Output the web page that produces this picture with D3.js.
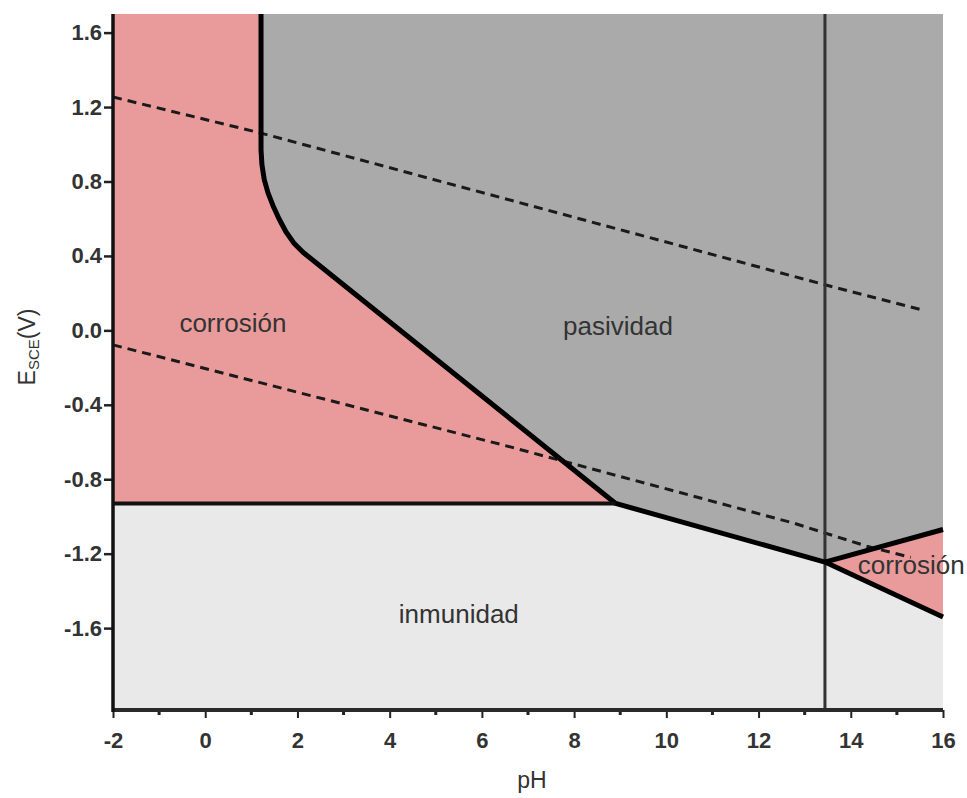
<!DOCTYPE html>
<html>
<head>
<meta charset="utf-8">
<script src="https://cdn.jsdelivr.net/npm/d3@7"></script>
<style>
  body { margin: 0; background: #fff; }
  text { font-family: "Liberation Sans", Arial, sans-serif; }
</style>
</head>
<body>
<div id="chart"></div>
<script>
var svgWidth = 967;
var svgHeight = 798;

var margin = { top: 14, right: 24, bottom: 88, left: 113 };
var width = svgWidth - margin.left - margin.right;
var height = svgHeight - margin.top - margin.bottom;

// data
var xTicks = [-2, 0, 2, 4, 6, 8, 10, 12, 14, 16];
var xMinorTicks = [-1, 1, 3, 5, 7, 9, 11, 13, 15];
var yTicks = [1.6, 1.2, 0.8, 0.4, 0.0, -0.4, -0.8, -1.2, -1.6];
var yTickLabels = ["1.6", "1.2", "0.8", "0.4", "0.0", "-0.4", "-0.8", "-1.2", "-1.6"];

// passive / corrosion boundary (thick line)
var boundaryPH = [1.21, 1.21, 1.23, 1.28, 1.36, 1.47, 1.60, 1.75, 1.92, 2.12, 8.9, 13.44];
var boundaryE = [1.70, 0.97, 0.89, 0.81, 0.74, 0.67, 0.60, 0.53, 0.47, 0.42, -0.93, -1.245];

// immunity line
var immunityPH = [-2, 8.9];
var immunityE = [-0.93, -0.93];

// alkaline corrosion wedge
var wedgeUpperPH = [13.44, 16];
var wedgeUpperE = [-1.245, -1.07];
var wedgeLowerPH = [13.44, 16];
var wedgeLowerE = [-1.245, -1.54];

// vertical line
var verticalPH = 13.44;

// water stability lines (dashed)
var oxygenPH = [-2, 1.21, 13.44, 15.55];
var oxygenE = [1.254, 1.06, 0.245, 0.11];
var hydrogenPH = [-2, 6.46, 12.75, 14.35, 15.3];
var hydrogenE = [-0.078, -0.616, -1.035, -1.16, -1.22];

var regionLabels = [
  { text: "corrosión", ph: 0.6, e: -0.01, anchor: "middle" },
  { text: "pasividad", ph: 8.95, e: -0.025, anchor: "middle" },
  { text: "inmunidad", ph: 5.5, e: -1.57, anchor: "middle" },
  { text: "corrosión", ph: 14.15, e: -1.31, anchor: "start" }
];

var zip = function(xs, ys) { return xs.map(function(v, i) { return [v, ys[i]]; }); };

var svg = d3.select("#chart")
  .append("svg")
  .attr("width", svgWidth)
  .attr("height", svgHeight);

var chart = svg.append("g")
  .attr("transform", `translate(${margin.left}, ${margin.top})`);

var x = d3.scaleLinear().domain([-2, 16]).range([0, width]);
var y = d3.scaleLinear().domain([-2.04, 1.70]).range([height, 0]);

var line = d3.line().x(d => x(d[0])).y(d => y(d[1]));

var boundary = zip(boundaryPH, boundaryE);
var nb = boundary.length;

// immunity background
chart.append("rect")
  .attr("x", 0).attr("y", 0)
  .attr("width", width).attr("height", height)
  .attr("fill", "#e9e9e9");

// corrosion (acid) area
var pink = [[-2, 1.70]].concat(boundary.slice(0, nb - 1)).concat([[-2, -0.93]]);
chart.append("path")
  .attr("d", line(pink) + "Z")
  .attr("fill", "#e99b9b");

// passive area
var grey = [[16, 1.70], [16, wedgeUpperE[1]], [wedgeUpperPH[0], wedgeUpperE[0]]]
  .concat(boundary.slice().reverse());
chart.append("path")
  .attr("d", line(grey) + "Z")
  .attr("fill", "#aaaaaa");

// alkaline corrosion wedge
chart.append("path")
  .attr("d", line([[wedgeUpperPH[0], wedgeUpperE[0]], [16, wedgeUpperE[1]], [16, wedgeLowerE[1]]]) + "Z")
  .attr("fill", "#e99b9b");

// dashed lines
[zip(oxygenPH, oxygenE), zip(hydrogenPH, hydrogenE)].forEach(function(pts) {
  chart.append("path")
    .attr("d", line(pts))
    .attr("fill", "none")
    .attr("stroke", "#1a1a1a")
    .attr("stroke-width", 3)
    .attr("stroke-dasharray", "9,6");
});

// vertical line
chart.append("line")
  .attr("x1", x(verticalPH)).attr("x2", x(verticalPH))
  .attr("y1", 0).attr("y2", height)
  .attr("stroke", "#333")
  .attr("stroke-width", 3);

// thick boundaries
chart.append("path")
  .attr("d", line(boundary))
  .attr("fill", "none")
  .attr("stroke", "#000")
  .attr("stroke-width", 5)
  .attr("stroke-linejoin", "round");

chart.append("path")
  .attr("d", line(zip(immunityPH, immunityE)))
  .attr("fill", "none")
  .attr("stroke", "#111")
  .attr("stroke-width", 4);

[zip(wedgeUpperPH, wedgeUpperE), zip(wedgeLowerPH, wedgeLowerE)].forEach(function(pts) {
  chart.append("path")
    .attr("d", line(pts))
    .attr("fill", "none")
    .attr("stroke", "#000")
    .attr("stroke-width", 5);
});

// region labels
chart.selectAll(".region")
  .data(regionLabels)
  .enter()
  .append("text")
  .attr("class", "region")
  .attr("x", d => x(d.ph))
  .attr("y", d => y(d.e))
  .attr("text-anchor", d => d.anchor)
  .attr("font-size", "26px")
  .attr("fill", "#333")
  .text(d => d.text);

// axes
var xAxis = d3.axisBottom(x).tickValues(xTicks).tickSize(8).tickPadding(14).tickFormat(d => String(d));
var gx = chart.append("g")
  .attr("transform", `translate(0, ${height})`)
  .call(xAxis);
gx.selectAll(".tick line").attr("stroke", "#222").attr("stroke-width", 2);

gx.selectAll(".minor")
  .data(xMinorTicks)
  .enter()
  .append("line")
  .attr("class", "minor")
  .attr("x1", d => x(d)).attr("x2", d => x(d))
  .attr("y1", 0).attr("y2", 5)
  .attr("stroke", "#222")
  .attr("stroke-width", 3);

var yAxis = d3.axisLeft(y).tickValues(yTicks).tickSize(9).tickPadding(2)
  .tickFormat((d, i) => yTickLabels[i]);
var gy = chart.append("g").call(yAxis);
gy.selectAll(".tick line").attr("stroke", "#222").attr("stroke-width", 2.5);

[gx, gy].forEach(function(g) {
  g.select(".domain").remove();
  g.selectAll(".tick text")
    .attr("font-size", "22px")
    .attr("font-weight", "bold")
    .attr("fill", "#333")
    .attr("font-family", "'Liberation Sans', Arial, sans-serif");
});

chart.append("line")
  .attr("x1", 0).attr("x2", width)
  .attr("y1", height).attr("y2", height)
  .attr("stroke", "#2a2a2a").attr("stroke-width", 4);
chart.append("line")
  .attr("x1", 0).attr("x2", 0)
  .attr("y1", 0).attr("y2", height + 2)
  .attr("stroke", "#111").attr("stroke-width", 3.5);

// axis titles
chart.append("text")
  .attr("x", width / 2 + 4)
  .attr("y", height + 78)
  .attr("text-anchor", "middle")
  .attr("font-size", "23px")
  .attr("fill", "#333")
  .text("pH");

var yTitle = svg.append("text")
  .attr("transform", `translate(35, 347) rotate(-90)`)
  .attr("text-anchor", "middle")
  .attr("font-size", "23px")
  .attr("fill", "#333");
yTitle.append("tspan").text("E");
yTitle.append("tspan").attr("font-size", "15px").attr("dy", 4).text("SCE");
yTitle.append("tspan").attr("dy", -4).text("(V)");
</script>
</body>
</html>
